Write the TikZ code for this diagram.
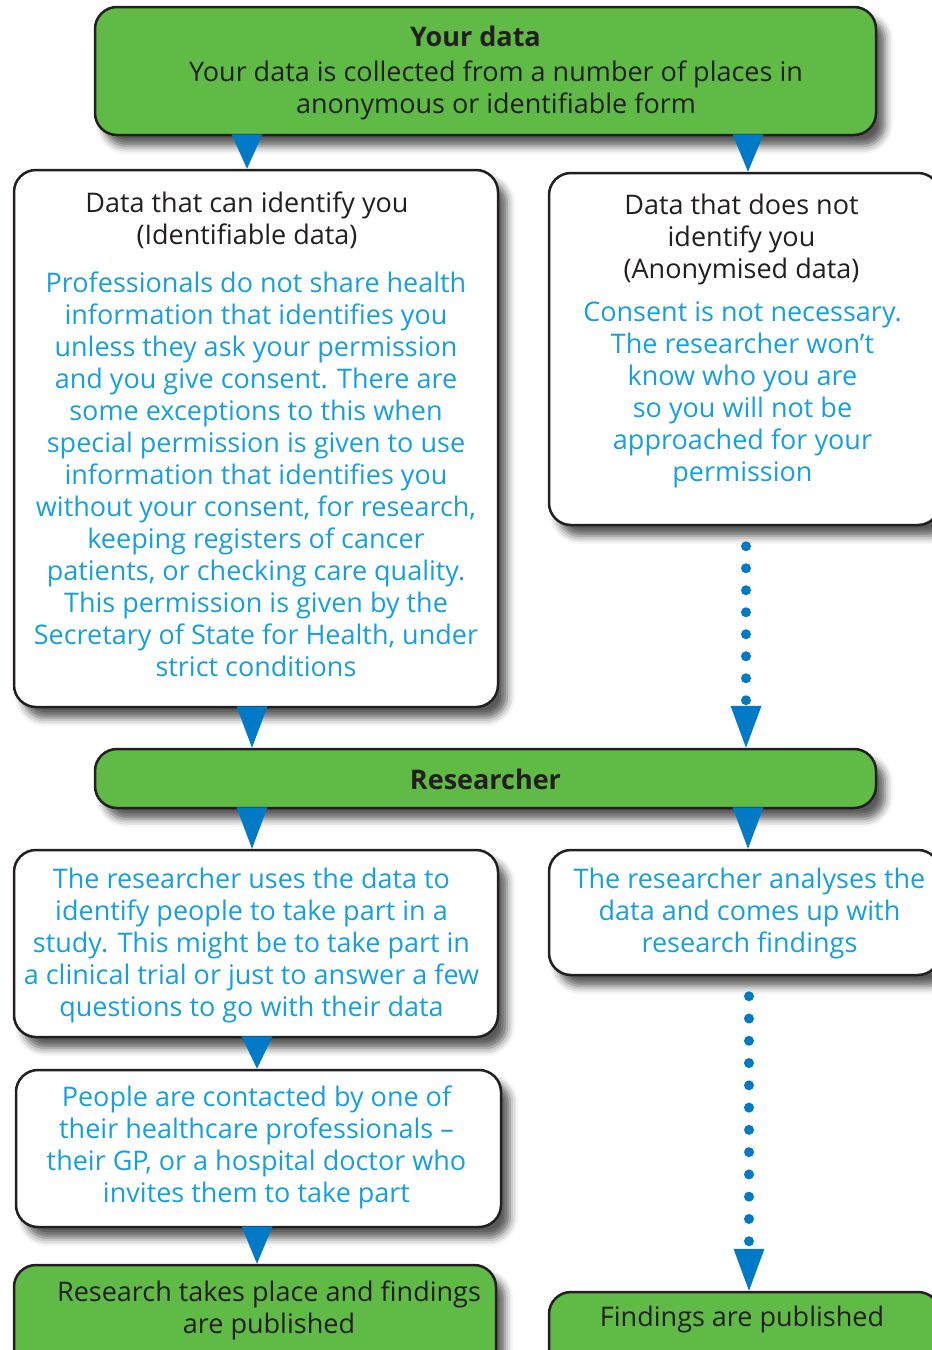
\documentclass[tikz,border=0pt]{standalone}
\usepackage{fontspec}
\setmainfont{Open Sans}
\usetikzlibrary{shadows.blur,calc}
\definecolor{boxgreen}{RGB}{95,186,70}
\definecolor{arrowblue}{RGB}{0,121,198}
\definecolor{textblue}{RGB}{22,160,219}
\definecolor{ink}{RGB}{35,31,32}
\tikzset{
  box/.style={draw=ink, line width=2.5pt, rounded corners=22pt, inner sep=0pt,
    blur shadow={shadow xshift=9pt, shadow yshift=-11pt, shadow blur radius=8pt, shadow opacity=65}},
  whitebox/.style={box, fill=white},
  greenbox/.style={box, fill=boxgreen},
  blk/.style={text=ink, align=center, font=\fontsize{27}{32}\selectfont, inner sep=0pt},
  blu/.style={blk, text=textblue},
  ttl/.style={blk, font=\fontsize{27}{32}\selectfont\bfseries},
  tri/.style={fill=arrowblue},
  dotline/.style={draw=arrowblue, line width=10pt, line cap=round, dash pattern=on 0pt off #1},
  dotline/.default=22pt
}
\begin{document}
\begin{tikzpicture}[x=1pt,y=-1pt]
\useasboundingbox (0,0) rectangle (932,1350);
% boxes
\node[greenbox, minimum width=781pt, minimum height=128pt] (top) at (485.5,71) {};
\node[whitebox, minimum width=484pt, minimum height=537pt] (l1) at (256,438.5) {};
\node[whitebox, minimum width=391pt, minimum height=352pt] (r1) at (744.5,349) {};
\node[greenbox, minimum width=781pt, minimum height=59pt] (res) at (485.5,778.5) {};
\node[whitebox, minimum width=484pt, minimum height=187pt] (l2) at (256,943.5) {};
\node[whitebox, minimum width=391pt, minimum height=125pt] (r2) at (744.5,912.5) {};
\node[whitebox, minimum width=485pt, minimum height=157pt] (l3) at (258.5,1148.5) {};
\node[greenbox, minimum width=482pt, minimum height=115pt] (lg) at (255,1322.5) {};
\node[greenbox, minimum width=391pt, minimum height=88pt] (rg) at (744.5,1336) {};
% texts
\node[ttl] (top-t) at (475.5,36) {Your data};
\node[blk] (top-b) at (496,90) {Your data is collected from a number of places in\\anonymous or identifiable form};
\node[blk] (l1-t) at (247,220) {Data that can identify you\\(Identifiable data)};
\node[blu] (l1-b) at (256,474) {Professionals do not share health\\information that identifies you\\unless they ask your permission\\and you give consent. There are\\some exceptions to this when\\special permission is given to use\\information that identifies you\\without your consent, for research,\\keeping registers of cancer\\patients, or checking care quality.\\This permission is given by the\\Secretary of State for Health, under\\strict conditions};
\node[blk] (r1-t) at (741.5,239) {Data that does not\\identify you\\(Anonymised data)};
\node[blu] (r1-b) at (742.5,395) {Consent is not necessary.\\The researcher won’t\\know who you are\\so you will not be\\approached for your\\permission};
\node[ttl] (res-t) at (485.5,779) {Researcher};
\node[blu] (l2-b) at (251.5,945) {The researcher uses the data to\\identify people to take part in a\\study. This might be to take part in\\a clinical trial or just to answer a few\\questions to go with their data};
\node[blu] (r2-b) at (749.5,913) {The researcher analyses the\\data and comes up with\\research findings};
\node[blu] (l3-b) at (256.5,1147) {People are contacted by one of\\their healthcare professionals –\\their GP, or a hospital doctor who\\invites them to take part};
\node[blk] (lg-t) at (269,1310) {Research takes place and findings\\are published};
\node[blk] (rg-t) at (742,1319) {Findings are published};
% arrow columns
\coordinate (c1) at (247,0);
\coordinate (c2) at (748,0);
\coordinate (c3) at (252,0);
\coordinate (c4) at (746,0);
\coordinate (c5) at (257,0);
\coordinate (c6) at (749,0);
% solid triangle connectors
\fill[tri] ($(c1 |- top.south)+(-15.5,-2)$) -- ($(c1 |- top.south)+(15.5,-2)$) -- (c1 |- l1.north) -- cycle;
\fill[tri] ($(c2 |- top.south)+(-15.5,-2)$) -- ($(c2 |- top.south)+(15.5,-2)$) -- (c2 |- r1.north) -- cycle;
\fill[tri] ($(c3 |- l1.south)+(-15.5,-2)$) -- ($(c3 |- l1.south)+(15.5,-2)$) -- (c3 |- res.north) -- cycle;
\fill[tri] ($(c3 |- res.south)+(-15.5,-2)$) -- ($(c3 |- res.south)+(15.5,-2)$) -- (c3 |- l2.north) -- cycle;
\fill[tri] ($(c2 |- res.south)+(-15.5,-2)$) -- ($(c2 |- res.south)+(15.5,-2)$) -- (c2 |- r2.north) -- cycle;
\fill[tri] ($(c5 |- l2.south)+(-15.5,-2)$) -- ($(c5 |- l2.south)+(15.5,-2)$) -- (c5 |- l3.north) -- cycle;
\fill[tri] ($(c5 |- l3.south)+(-15.5,-2)$) -- ($(c5 |- l3.south)+(15.5,-2)$) -- (c5 |- lg.north) -- cycle;
% dotted connectors
\draw[dotline=22pt] ($(c4 |- r1.south)+(0,20)$) -- ($(c4 |- res.north)+(0,-45)$);
\fill[tri] ($(c4 |- res.north)+(-15.5,-42)$) -- ($(c4 |- res.north)+(15.5,-42)$) -- (c4 |- res.north) -- cycle;
\draw[dotline=22.27pt] ($(c6 |- r2.south)+(0,20)$) -- ($(c6 |- rg.north)+(0,-46)$);
\fill[tri] ($(c6 |- rg.north)+(-15.5,-42)$) -- ($(c6 |- rg.north)+(15.5,-42)$) -- (c6 |- rg.north) -- cycle;
\end{tikzpicture}
\end{document}
